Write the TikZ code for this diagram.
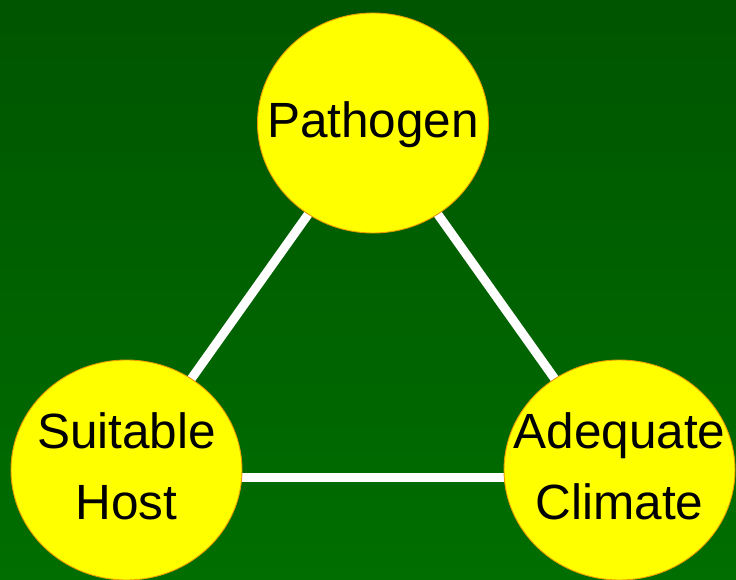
\documentclass[tikz,border=0pt]{standalone}
\usepackage{fontspec}
\setmainfont{Liberation Sans}
\usetikzlibrary{shapes.geometric}
\definecolor{bgtop}{HTML}{005500}
\definecolor{bgbot}{HTML}{006E00}
\definecolor{disc}{HTML}{FFFF00}
\definecolor{rim}{HTML}{E89A00}
% text of zero width, so the disc keeps its own size; #1 lowers it a little
\newcommand{\disctext}[2][4pt]{\makebox[0pt]{\raisebox{-#1}{\begin{tabular}{@{}c@{}}#2\end{tabular}}}}
\tikzset{
  factor/.style={ellipse, fill=disc, draw=rim, line width=0.9pt,
    minimum width=231pt, minimum height=220pt, inner sep=0pt,
    font=\fontsize{49.5}{71}\selectfont},
  link/.style={white, line width=9pt}
}
\begin{document}
\begin{tikzpicture}[x=1pt,y=1pt]
  % background
  \shade[top color=bgtop, bottom color=bgbot] (0,0) rectangle (736,579);
  \useasboundingbox (0,0) rectangle (736,579);
  % three factors
  \coordinate (p) at (373,456);
  \coordinate (h) at (126.5,109);
  \coordinate (c) at (619.5,109);
  \coordinate (hb) at (126.5,102);
  \coordinate (cb) at (619.5,102);
  % connecting bars
  \draw[link] (p) -- (h);
  \draw[link] (p) -- (c);
  \draw[link] (hb) -- (cb);
  \node[factor] (pathogen) at (p) {\disctext[6pt]{Pathogen}};
  \node[factor] (host) at (h) {\disctext[3.5pt]{Suitable\\Host}};
  \node[factor] (climate) at (c) {\disctext[3.5pt]{Adequate\\Climate}};
\end{tikzpicture}
\end{document}
